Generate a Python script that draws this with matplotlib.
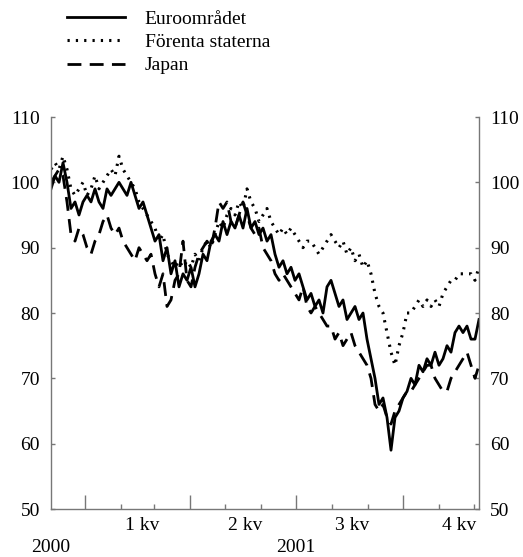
import matplotlib
matplotlib.use("Agg")
import matplotlib.pyplot as plt
import matplotlib.dates as mdates
import numpy as np
import pandas as pd

plt.rcParams['font.family'] = ['Liberation Serif', 'DejaVu Serif']
plt.rcParams['lines.scale_dashes'] = False

# ---- data ----
start_date = "2000-12-03"
end_date = "2001-12-05 06:00"

euro = [99, 101, 100, 103, 100, 96, 97, 95, 97, 98, 97, 99, 97, 96, 99, 98, 99, 100,
        99, 98, 100, 98, 96, 97, 95, 93, 91, 92, 88, 90, 86, 88, 84, 86, 85, 87, 84, 86,
        89, 88, 91, 92, 91, 94, 92, 94, 93, 95, 93, 96, 93, 94, 92, 93, 91, 92, 89, 87,
        88, 86, 87, 85, 86, 84, 82, 83, 81, 82, 80, 84, 85, 83, 81, 82, 79, 80, 81, 79,
        80, 76, 73, 70, 66, 67, 64, 59, 64, 65, 67, 68, 70, 69, 72, 71, 73, 72, 74, 72,
        73, 75, 74, 77, 78, 77, 78, 76, 76, 79]

usa = [102, 103, 102, 104, 102, 99, 98, 99, 100, 98, 99, 101, 99, 100, 101, 102, 101, 104,
       102, 101, 100, 99, 97, 96, 95, 94, 93, 91, 92, 89, 88, 87, 88, 87, 88, 87, 89, 88,
       90, 91, 90, 92, 94, 93, 95, 96, 95, 97, 96, 99, 97, 96, 94, 95, 96, 94, 93, 92,
       93, 92, 93, 92, 91, 90, 91, 91, 90, 89, 90, 91, 92, 91, 90, 91, 89, 90, 88, 89,
       87, 88, 86, 83, 81, 80, 77, 74, 72, 75, 77, 80, 80, 81, 82, 81, 82, 81, 82, 81,
       83, 84, 85, 85, 86, 86, 86, 86, 85, 87]

japan = [100, 101, 102, 101, 97, 92, 91, 93, 92, 90, 89, 91, 92, 94, 95, 93, 92, 93,
         91, 90, 89, 88, 90, 89, 88, 89, 86, 84, 86, 81, 82, 85, 86, 91, 85, 84, 87, 89,
         90, 91, 90, 93, 97, 96, 97, 94, 93, 95, 97, 95, 93, 92, 93, 90, 89, 88, 86, 85,
         86, 85, 84, 83, 82, 84, 81, 80, 81, 80, 79, 78, 78, 76, 77, 75, 76, 77, 75, 74,
         73, 72, 70, 66, 65, 66, 64, 63, 65, 66, 67, 68, 68, 69, 70, 71, 72, 72, 70, 69,
         68, 68, 70, 71, 72, 73, 74, 72, 70, 72]

series_labels = ["Euroområdet", "Förenta staterna", "Japan"]
quarter_labels = ["1 kv", "2 kv", "3 kv", "4 kv"]
quarter_label_dates = ["2001-02-19", "2001-05-19", "2001-08-18", "2001-11-18"]
year_labels = ["2000", "2001"]
year_label_dates = ["2000-12-03", "2001-07-01"]
yticks = [50, 60, 70, 80, 90, 100, 110]

dates = pd.date_range(start_date, end_date, periods=len(euro))

# ---- figure ----
W, H = 523, 557
fig = plt.figure(figsize=(W / 100, H / 100), dpi=100)
ax = fig.add_axes([51 / W, 1 - 509 / H, (479 - 51) / W, (509 - 117) / H])

l1, = ax.plot(dates, euro, color='black', lw=2.0, linestyle='-')
l2, = ax.plot(dates, usa, color='black', lw=2.2, linestyle=(0, (1.6, 4.4)))
l3, = ax.plot(dates, japan, color='black', lw=2.0, linestyle=(0, (10, 6)))

ax.set_ylim(50, 110)
ax.set_xlim(pd.Timestamp(start_date), pd.Timestamp(end_date))

spine_col = '#777777'
for s in ['left', 'right', 'bottom']:
    ax.spines[s].set_color(spine_col)
    ax.spines[s].set_linewidth(1.0)
ax.spines['top'].set_visible(False)

ax.set_yticks(yticks)
ax.tick_params(axis='y', which='both', direction='in', length=3, width=1,
               color=spine_col, labelsize=14, left=True, right=True,
               labelleft=True, labelright=True, pad=8)

ax.xaxis.set_major_locator(mdates.MonthLocator(bymonth=[1, 4, 7, 10]))
ax.xaxis.set_minor_locator(mdates.MonthLocator(bymonth=[2, 3, 5, 6, 8, 9, 11, 12]))
ax.tick_params(axis='x', which='major', direction='in', length=10, width=1,
               color=spine_col, labelbottom=False)
ax.tick_params(axis='x', which='minor', direction='in', length=3.5, width=1,
               color=spine_col, labelbottom=False)

trans = ax.get_xaxis_transform()
for lab, d in zip(quarter_labels, quarter_label_dates):
    ax.text(pd.Timestamp(d), -17 / 392, lab, transform=trans, ha='center',
            va='center', fontsize=14)
for lab, d in zip(year_labels, year_label_dates):
    ax.text(pd.Timestamp(d), -39 / 392, lab, transform=trans, ha='center',
            va='center', fontsize=14)

leg = fig.legend([l1, l2, l3], series_labels, loc='upper left',
                 bbox_to_anchor=(67 / W, 1 - 10 / H), frameon=False, fontsize=14,
                 handlelength=3.0, handletextpad=1.0, labelspacing=0.3,
                 borderaxespad=0, borderpad=0)

fig.savefig("out.png", dpi=100)
